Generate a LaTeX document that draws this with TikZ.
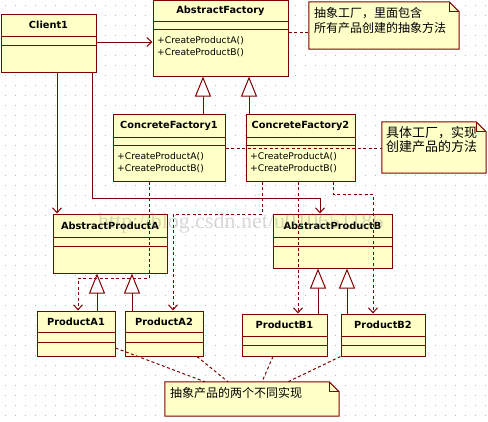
\documentclass[tikz,border=0pt]{standalone}
\usepackage{fontspec}
\setmainfont{DejaVu Sans}
\newfontfamily\cjk{Noto Sans CJK SC}
\newfontfamily\wmfont{Liberation Serif}
\usetikzlibrary{arrows.meta}
\definecolor{umlline}{RGB}{128,0,0}
\definecolor{umlfill}{RGB}{255,255,200}
\definecolor{griddot}{RGB}{185,185,185}

\tikzset{
 classbox/.style={draw=umlline, fill=umlfill, line width=1pt, inner sep=0pt, rectangle},
 sepline/.style={draw=umlline, line width=1pt},
 titletext/.style={font=\bfseries\fontsize{9.8}{11}\selectfont, inner sep=0pt},
 methtext/.style={font=\fontsize{9.2}{10}\selectfont, inner sep=0pt, anchor=west},
 assoc/.style={draw=umlline, line width=1pt, -{Straight Barb[length=5pt,width=9pt]}},
 depend/.style={assoc, dash pattern=on 3pt off 2.5pt},
 inherit/.style={draw=umlline, line width=1pt, -{Triangle[fill=white,length=20pt,width=16pt]}},
 notelink/.style={draw=umlline, line width=1pt, dash pattern=on 3pt off 2.5pt},
 notebox/.style={draw=none, inner sep=0pt, rectangle},
 notetext/.style={font=\cjk\fontsize{12}{15}\selectfont, inner sep=0pt, anchor=west},
}

% name, x1, y1, x2, y2, sep1, sep2, title
\newcommand{\umlclassbox}[8]{%
  \node[classbox, minimum width={(#4-#2)*1pt}, minimum height={(#5-#3)*1pt}] (#1) at ({(#2+#4)/2},{(#3+#5)/2}) {};
  \draw[sepline] (#1.west |- 0,#6) -- (#1.east |- 0,#6);
  \draw[sepline] (#1.west |- 0,#7) -- (#1.east |- 0,#7);
  \node[titletext] (#1-title) at ({(#2+#4)/2},{(#3+#6)/2}) {#8};
}
% name, x1, y1, x2, y2
\newcommand{\umlnotebox}[5]{%
  \node[notebox, minimum width={(#4-#2)*1pt}, minimum height={(#5-#3)*1pt}] (#1) at ({(#2+#4)/2},{(#3+#5)/2}) {};
  \draw[draw=umlline, fill=umlfill, line width=1pt] (#1.north west) -- ([xshift=-10pt]#1.north east) -- ([yshift=-10pt]#1.north east) -- (#1.south east) -- (#1.south west) -- cycle;
  \draw[draw=umlline, line width=1pt] ([xshift=-10pt]#1.north east) -- ([xshift=-10pt,yshift=-10pt]#1.north east) -- ([yshift=-10pt]#1.north east);
}

\begin{document}
\begin{tikzpicture}[x=1pt,y=-1pt]
\useasboundingbox (0,0) rectangle (488,421);
\fill[white] (0,0) rectangle (488,421);
\foreach \gx in {0,...,48} {\foreach \gy in {0,...,42} {\fill[griddot] (\gx*10+5,\gy*10+5) rectangle ++(1,1);}}

% classes
\umlclassbox{client}{1}{14}{96}{72}{36}{45}{Client1}
\umlclassbox{af}{153}{0.5}{288}{76}{21}{29}{AbstractFactory}
\node[methtext] (af-m1) at (157,41) {+CreateProductA()};
\node[methtext] (af-m2) at (157,53) {+CreateProductB()};
\umlclassbox{cf1}{113}{114}{225}{181}{137}{145}{ConcreteFactory1}
\node[methtext] (cf1-m1) at (117,156.5) {+CreateProductA()};
\node[methtext] (cf1-m2) at (117,169) {+CreateProductB()};
\umlclassbox{cf2}{246}{114}{355}{181}{137}{145}{ConcreteFactory2}
\node[methtext] (cf2-m1) at (250,156.5) {+CreateProductA()};
\node[methtext] (cf2-m2) at (250,169) {+CreateProductB()};
\umlclassbox{apa}{53}{214}{167}{273}{237}{246}{AbstractProductA}
\umlclassbox{apb}{273}{214}{392}{268}{237}{246}{AbstractProductB}
\umlclassbox{pa1}{37}{311}{115}{356}{332}{342}{ProductA1}
\umlclassbox{pa2}{125}{311}{203}{356}{332}{342}{ProductA2}
\umlclassbox{pb1}{242}{314}{327}{356}{336}{345}{ProductB1}
\umlclassbox{pb2}{341}{314}{425}{356}{336}{345}{ProductB2}

% notes
\umlnotebox{note1}{309}{2}{459}{49}
\node[notetext] (note1-a) at (314,13) {抽象工厂，里面包含};
\node[notetext] (note1-b) at (314,28) {所有产品创建的抽象方法};
\umlnotebox{note2}{382}{122}{486}{173}
\node[notetext, font=\cjk\fontsize{13}{15}\selectfont] (note2-a) at (386,133) {具体工厂，实现};
\node[notetext, font=\cjk\fontsize{13}{15}\selectfont] (note2-b) at (386,147) {创建产品的方法};
\umlnotebox{note3}{165}{382}{339}{416}
\node[notetext] (note3-a) at (170,393) {抽象产品的两个不同实现};

% associations
\draw[assoc] (client.east |- 0,42) -- (af.west |- 0,42);
\draw[assoc] (client.south -| 57,0) -- (apa.north -| 57,0);
\draw[assoc] (client.south -| 92,0) -- (92,198) -- (320,198) -- (apb.north -| 320,0);

% inheritance
\draw[inherit] (cf1.north -| 203,0) -- (af.south -| 203,0);
\draw[inherit] (cf2.north -| 249,0) -- (af.south -| 249,0);
\draw[inherit] (pa1.north -| 97,0) -- (apa.south -| 97,0);
\draw[inherit] (pa2.north -| 132,0) -- (apa.south -| 132,0);
\draw[inherit] (pb1.north -| 318,0) -- (apb.south -| 318,0);
\draw[inherit] (pb2.north -| 347,0) -- (apb.south -| 347,0);

% dependencies
\draw[depend] (cf1.south -| 149,0) -- (149,278) -- (78,278) -- (pa1.north -| 78,0);
\draw[depend] (cf2.south -| 262,0) -- (262,214) -- (173,214) -- (pa2.north -| 173,0);
\draw[depend] (cf2.south -| 298,0) -- (pb1.north -| 298,0);
\draw[depend] (cf2.south -| 333,0) -- (333,194) -- (373,194) -- (pb2.north -| 373,0);

% note links
\draw[notelink] (af.east |- 0,32) -- (note1.west |- 0,32);
\draw[notelink] (cf1.east |- 0,148) -- (note2.west |- 0,148);
\draw[notelink] (pa1.east |- 0,348) -- (note3.north -| 205,0);
\draw[notelink] (pa2.south -| 197,0) -- (note3.north -| 228,0);
\draw[notelink] (pb1.south -| 273,0) -- (note3.north -| 262,0);
\draw[notelink] (pb2.south west) -- (note3.north -| 288,0);

% watermark
\node[font=\wmfont\fontsize{22}{22}\selectfont, text=gray, opacity=0.3, anchor=base west, inner sep=0pt] (wm) at (98,228) {http://blog.csdn.net/u010651186};
\end{tikzpicture}
\end{document}
